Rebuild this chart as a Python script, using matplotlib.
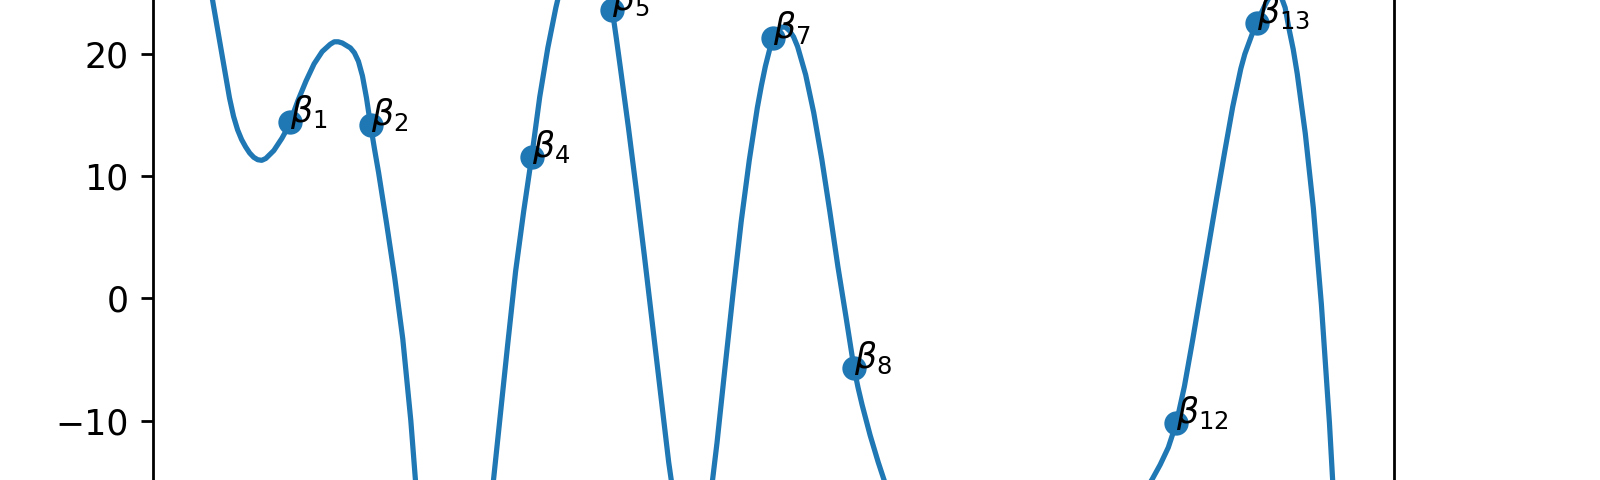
import numpy as np
import matplotlib
matplotlib.use("Agg")
import matplotlib.pyplot as plt

## 曲線のサンプル (曲がりの強い所は細かく読む)
curve_x = [
    0.00, 0.05, 0.10, 0.15, 0.20, 0.25, 0.30, 0.35, 0.40, 0.45,
    0.50, 0.55, 0.60, 0.65, 0.70, 0.80, 0.90, 0.95, 1.00, 1.05,
    1.10, 1.20, 1.30, 1.40, 1.50, 1.55, 1.60, 1.65, 1.70, 1.75,
    1.80, 1.85, 1.90, 1.95, 2.00, 2.05, 2.10, 2.20, 2.30, 2.40,
    2.50, 2.60, 2.70, 2.80, 2.90, 3.00, 3.10, 3.20, 3.30, 3.40,
    3.50, 3.60, 3.70, 3.80, 3.90, 4.00, 4.10, 4.20, 4.30, 4.40,
    4.50, 4.60, 4.70, 4.80, 4.90, 5.00, 5.05, 5.10, 5.20, 5.30,
    5.40, 5.50, 5.60, 5.70, 5.80, 5.90, 6.00, 6.10, 6.20, 6.30,
    6.40, 6.50, 6.60, 6.70, 6.80, 6.85, 6.90, 6.95, 7.00, 7.05,
    7.10, 7.15, 7.20, 7.25, 7.30, 7.40, 7.50, 7.60, 7.70, 7.80,
    7.90, 8.00, 8.05, 8.10, 8.20, 8.30, 8.40, 8.50, 8.60, 8.70,
    8.80, 8.90, 9.00, 9.20, 9.40, 9.60, 9.80, 10.00, 10.20, 10.40,
    10.60, 10.80, 11.00, 11.20, 11.40, 11.50, 11.60, 11.70, 11.80, 11.90,
    12.00, 12.10, 12.20, 12.30, 12.40, 12.50, 12.60, 12.70, 12.80, 12.85,
    12.90, 12.95, 13.00, 13.05, 13.10, 13.15, 13.20, 13.25, 13.30, 13.35,
    13.40, 13.45, 13.50, 13.60, 13.70, 13.80, 13.90, 14.00,
]
curve_y = [
    26.0, 24.0, 22.1, 20.2, 18.3, 16.4, 14.9, 13.8, 13.0, 12.4,
    11.9, 11.55, 11.35, 11.3, 11.45, 12.1, 13.1, 13.7, 14.4, 15.3,
    16.2, 17.8, 19.2, 20.2, 20.8, 21.0, 21.0, 20.9, 20.7, 20.5,
    20.1, 19.4, 18.2, 16.4, 14.2, 12.2, 10.3, 6.1, 1.7, -3.3,
    -10.0, -18.5, -25.0, -30.0, -33.5, -35.0, -34.5, -31.5, -27.0, -21.5,
    -16.5, -10.2, -3.9, 2.2, 7.1, 11.6, 16.5, 20.5, 23.8, 26.6,
    28.6, 29.8, 30.0, 29.0, 26.8, 23.6, 21.3, 18.9, 14.0, 8.8,
    3.4, -2.2, -7.8, -13.4, -18.0, -21.0, -22.2, -21.0, -17.3, -11.8,
    -5.6, 0.5, 6.3, 11.3, 15.6, 17.4, 19.0, 20.3, 21.3, 21.9,
    22.2, 22.2, 21.9, 21.4, 20.6, 18.3, 15.2, 11.4, 7.1, 2.6,
    -1.5, -5.7, -7.3, -8.7, -11.2, -13.4, -15.4, -17.4, -19.4, -21.3,
    -23.1, -24.8, -26.4, -29.2, -31.4, -33.0, -34.0, -34.3, -33.7, -32.3,
    -30.1, -27.2, -24.0, -20.9, -18.2, -17.0, -15.9, -14.8, -13.6, -12.2,
    -10.2, -7.2, -3.5, 0.4, 4.3, 8.2, 12.0, 15.7, 18.8, 20.0,
    20.9, 21.8, 22.5, 23.3, 24.0, 24.6, 24.9, 25.0, 24.7, 23.8,
    22.0, 20.4, 18.4, 13.5, 7.4, -0.5, -10.2, -22.0,
]

## 節点 beta_i
beta_x = [0, 1, 2, 3, 4, 5, 6, 7, 8, 9, 10, 11, 12, 13, 14]
beta_y = [26.0, 14.4, 14.2, -35.0, 11.6, 23.6, -22.2, 21.3, -5.7,
          -26.4, -34.3, -24.0, -10.2, 22.5, -22.0]

y_lim = (-14.86, 24.42)


def main():
    fig = plt.figure(figsize=(6.4, 1.92), dpi=250, facecolor='w')
    # 元画像は切り抜きなので上下の枠は見えない
    ax = fig.add_axes([0.0956, 0.0, 0.7756, 1.0])

    ax.plot(curve_x, curve_y)
    ax.scatter(beta_x, beta_y)
    for i, (bx, by) in enumerate(zip(beta_x, beta_y)):
        # 画面外の点はラベルも見えないので描かない
        if y_lim[0] <= by <= y_lim[1]:
            ax.text(bx, by, rf'$\beta_{{{i}}}$')

    ax.set_xlim(-0.7, 14.7)
    ax.set_ylim(*y_lim)
    ax.set_yticks([-10, 0, 10, 20])
    ax.spines['top'].set_visible(False)
    ax.spines['bottom'].set_visible(False)
    ax.tick_params(bottom=False, labelbottom=False)

    fig.savefig("out.png", dpi=250)
    plt.close(fig)


if __name__ == "__main__":
    main()
